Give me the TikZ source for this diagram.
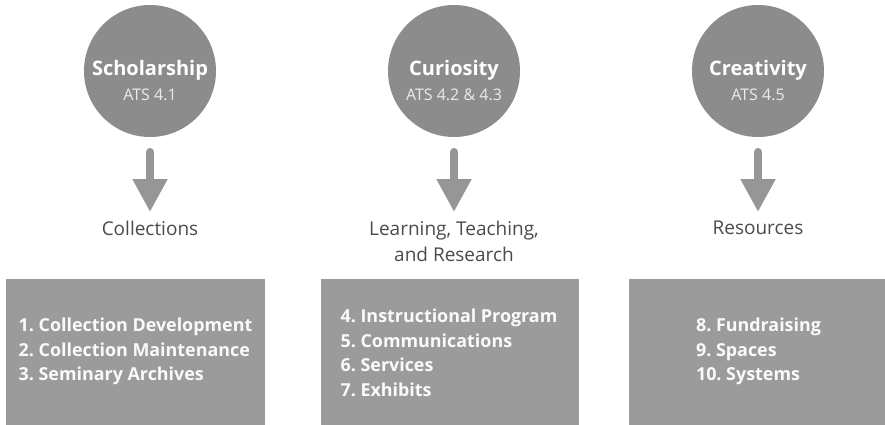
\documentclass[tikz,border=0pt]{standalone}
\usepackage{fontspec}
\setmainfont{Open Sans}
\usetikzlibrary{arrows.meta}
\frenchspacing
\definecolor{circgray}{RGB}{140,140,140}
\definecolor{boxgray}{RGB}{155,155,155}
\definecolor{arrgray}{RGB}{150,150,150}
\definecolor{labgray}{RGB}{75,75,75}
\definecolor{boxtext}{RGB}{250,250,250}
\tikzset{
  circ/.style={circle, fill=circgray, minimum size=132pt, inner sep=0pt},
  ttl/.style={font=\fontsize{20}{24}\selectfont\bfseries, text=white, inner sep=0pt},
  sub/.style={font=\fontsize{16}{19}\selectfont, text=white!92!black, inner sep=0pt},
  lab/.style={font=\fontsize{19}{26}\selectfont, text=labgray, align=center, inner sep=0pt},
  panel/.style={inner sep=0pt, align=left,
    font=\fontsize{17.9}{24.5}\selectfont\bfseries, text=boxtext},
  flow/.style={arrgray, line width=8pt, line cap=round,
    -{Triangle[width=33pt,length=33pt]}}
}
\begin{document}
\begin{tikzpicture}[x=1pt,y=-1pt]
\path[use as bounding box, fill=white] (0,0) rectangle (885,424);
% circles
\node[circ] (c1) at (150,71) {};
\node[circ] (c2) at (454,71) {};
\node[circ] (c3) at (758,71) {};
\node[ttl] (t1) at (150,70) {Scholarship};
\node[sub] (s1) at (150,95) {ATS 4.1};
\node[ttl] (t2) at (454,70) {Curiosity};
\node[sub] (s2) at (454,95) {ATS 4.2 \& 4.3};
\node[ttl] (t3) at (758,70) {Creativity};
\node[sub] (s3) at (758,95) {ATS 4.5};
% labels
\node[lab] (l1) at (150,228) {Collections};
\node[lab] (l2) at (454,241) {Learning, Teaching,\\and Research};
\node[lab] (l3) at (758,228) {Resources};
% arrows
\coordinate (a1) at (150,152); \coordinate (b1) at (150,212);
\coordinate (a2) at (454,152); \coordinate (b2) at (454,212);
\coordinate (a3) at (758,152); \coordinate (b3) at (758,212);
\draw[flow] (a1) -- (b1);
\draw[flow] (a2) -- (b2);
\draw[flow] (a3) -- (b3);
% boxes
\fill[boxgray] (6,279) rectangle (265,430);
\fill[boxgray] (321,279) rectangle (579,430);
\fill[boxgray] (629,279) rectangle (890,430);
\node[panel] (p1) at (135.5,351.5) {1. Collection Development\\2. Collection Maintenance\\3. Seminary Archives};
\node[panel] (p2) at (449,353) {4. Instructional Program\\5. Communications\\6. Services\\7. Exhibits};
\node[panel] (p3) at (758.5,351.5) {8. Fundraising\\9. Spaces\\10. Systems};
\end{tikzpicture}
\end{document}
